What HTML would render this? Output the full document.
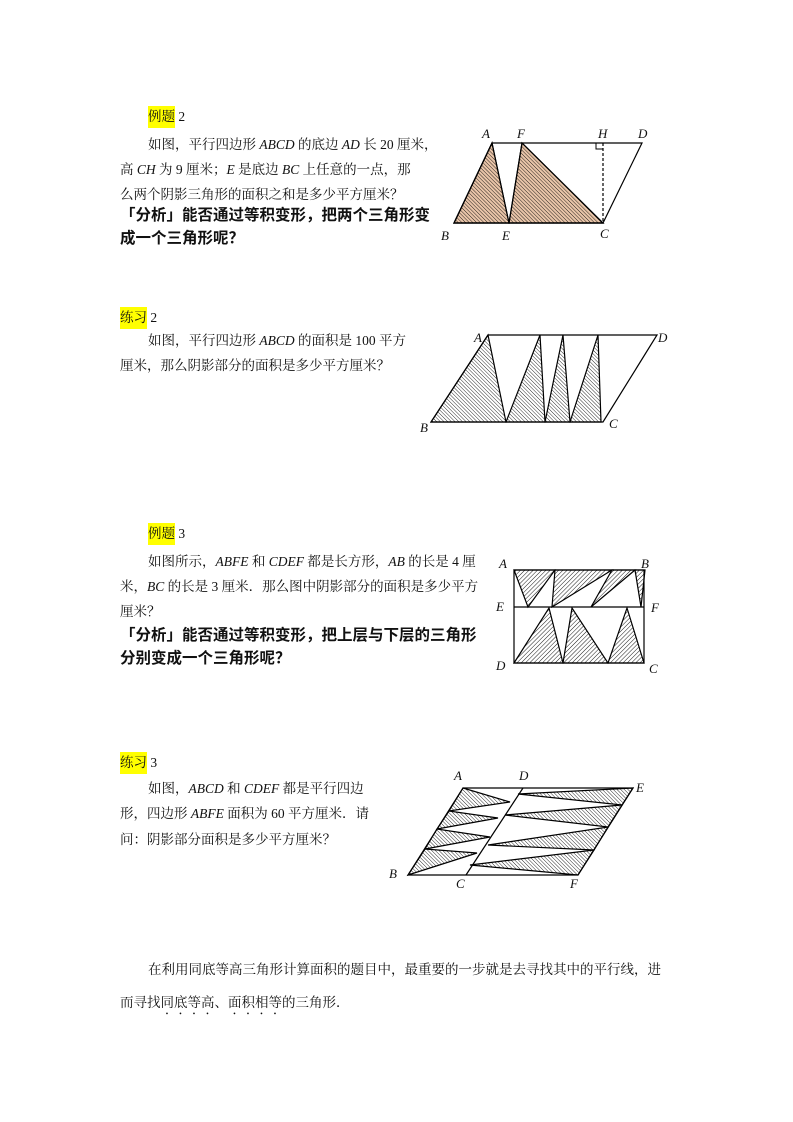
<!DOCTYPE html>
<html><head><meta charset="utf-8"><style>
body{margin:0;background:#fff;width:793px;height:1122px;position:relative;overflow:hidden;font-family:"Liberation Serif","Noto Serif CJK SC",serif;font-size:13.5px;color:#111}
.t{position:absolute;white-space:nowrap;line-height:18px}
.b{font-family:"Liberation Sans","Noto Sans CJK SC",sans-serif;font-weight:bold;font-size:15.5px}
.h{background:#ffff00;padding:3px 0 4px 0}
i{font-style:italic}
.dot{text-emphasis:dot;-webkit-text-emphasis:dot;text-emphasis-position:under;-webkit-text-emphasis-position:under}
svg{position:absolute;left:0;top:0}
svg text{font-family:"Liberation Serif",serif;font-style:italic;font-size:13px}
</style></head><body>
<div class="t" style="left:148px;top:108px"><span class="h">例题</span> 2</div>
<div class="t" style="left:148px;top:136px">如图，平行四边形 <i>ABCD</i> 的底边 <i>AD</i> 长 20 厘米，</div>
<div class="t" style="left:120px;top:161px">高 <i>CH</i> 为 9 厘米；<i>E</i> 是底边 <i>BC</i> 上任意的一点，那</div>
<div class="t" style="left:120px;top:186px">么两个阴影三角形的面积之和是多少平方厘米？</div>
<div class="t b" style="left:120px;top:207px">「分析」能否通过等积变形，把两个三角形变</div>
<div class="t b" style="left:120px;top:230px">成一个三角形呢？</div>

<div class="t" style="left:120px;top:309px"><span class="h">练习</span> 2</div>
<div class="t" style="left:148px;top:332px">如图，平行四边形 <i>ABCD</i> 的面积是 100 平方</div>
<div class="t" style="left:120px;top:357px">厘米，那么阴影部分的面积是多少平方厘米？</div>

<div class="t" style="left:148px;top:525px"><span class="h">例题</span> 3</div>
<div class="t" style="left:148px;top:553px">如图所示，<i>ABFE</i> 和 <i>CDEF</i> 都是长方形，<i>AB</i> 的长是 4 厘</div>
<div class="t" style="left:120px;top:578px">米，<i>BC</i> 的长是 3 厘米．那么图中阴影部分的面积是多少平方</div>
<div class="t" style="left:120px;top:603px">厘米？</div>
<div class="t b" style="left:120px;top:627px">「分析」能否通过等积变形，把上层与下层的三角形</div>
<div class="t b" style="left:120px;top:650px">分别变成一个三角形呢？</div>

<div class="t" style="left:120px;top:754px"><span class="h">练习</span> 3</div>
<div class="t" style="left:148px;top:780px">如图，<i>ABCD</i> 和 <i>CDEF</i> 都是平行四边</div>
<div class="t" style="left:120px;top:805px">形，四边形 <i>ABFE</i> 面积为 60 平方厘米．请</div>
<div class="t" style="left:120px;top:831px">问：阴影部分面积是多少平方厘米？</div>

<div class="t" style="left:148px;top:961px">在利用同底等高三角形计算面积的题目中，最重要的一步就是去寻找其中的平行线，进</div>
<div class="t" style="left:120px;top:994px">而寻找<span class="dot">同底等高</span>、<span class="dot">面积相等</span>的三角形．</div>

<svg width="793" height="1122">
<defs>
<pattern id="hb" width="2.6" height="2.6" patternUnits="userSpaceOnUse" patternTransform="rotate(-45)"><line x1="0" y1="0" x2="0" y2="2.6" stroke="#000" stroke-width="0.8"/></pattern>
<pattern id="hf" width="3" height="3" patternUnits="userSpaceOnUse" patternTransform="rotate(45)"><line x1="0" y1="0" x2="0" y2="3" stroke="#000" stroke-width="0.9"/></pattern>
</defs>
<g stroke="#000" stroke-width="1.2" fill="none">
<polygon points="492,143 454,223 509,223" fill="#e8c4a8"/><polygon points="492,143 454,223 509,223" fill="url(#hb)"/>
<polygon points="522,143 509,223 603,223" fill="#e8c4a8"/><polygon points="522,143 509,223 603,223" fill="url(#hb)"/>
<polygon points="492,143 642,143 603,223 454,223"/>
<line x1="603" y1="143" x2="603" y2="223" stroke-dasharray="3,2"/>
<polyline points="596,143 596,149 603,149" stroke-width="1"/>
<polygon points="488,335 431,422 506,422" fill="url(#hb)"/>
<polygon points="540,335 506,422 545,422" fill="url(#hb)"/>
<polygon points="563,335 545,422 570,422" fill="url(#hb)"/>
<polygon points="598,335 570,422 601,422" fill="url(#hb)"/>
<polygon points="488,335 657,335 603,422 431,422"/>
<polygon points="514,570 555,570 528,607" fill="url(#hf)"/>
<polygon points="555,570 612,570 552,607" fill="url(#hf)"/>
<polygon points="612,570 635,570 591,607" fill="url(#hf)"/>
<polygon points="635,570 645,570 641,607" fill="url(#hf)"/>
<polygon points="514,663 549,608 563,663" fill="url(#hf)"/>
<polygon points="563,663 572,608 608,663" fill="url(#hf)"/>
<polygon points="608,663 627,608 644,663" fill="url(#hf)"/>
<rect x="514" y="570" width="130" height="93"/>
<line x1="514" y1="607" x2="644" y2="607"/>
<polygon points="463,788 449,811 510,802" fill="url(#hb)"/>
<polygon points="449,811 437,829 498,818" fill="url(#hb)"/>
<polygon points="437,829 425,849 490,837" fill="url(#hb)"/>
<polygon points="425,849 408,875 477,853" fill="url(#hb)"/>
<polygon points="633,788 622,805 518,794" fill="url(#hb)"/>
<polygon points="622,805 608,827 505,815" fill="url(#hb)"/>
<polygon points="608,827 594,850 488,845" fill="url(#hb)"/>
<polygon points="594,850 578,875 470,865" fill="url(#hb)"/>
<polygon points="463,788 633,788 578,875 408,875"/>
<line x1="523" y1="788" x2="466" y2="875"/>
</g>
<g fill="#111">
<text x="482" y="138">A</text><text x="517" y="138">F</text><text x="598" y="138">H</text><text x="638" y="138">D</text>
<text x="441" y="240">B</text><text x="502" y="240">E</text><text x="600" y="238">C</text>
<text x="474" y="342">A</text><text x="658" y="342">D</text><text x="420" y="432">B</text><text x="609" y="428">C</text>
<text x="499" y="568">A</text><text x="641" y="568">B</text><text x="496" y="611">E</text><text x="651" y="612">F</text>
<text x="496" y="670">D</text><text x="649" y="673">C</text>
<text x="454" y="780">A</text><text x="519" y="780">D</text><text x="636" y="792">E</text>
<text x="389" y="878">B</text><text x="456" y="888">C</text><text x="570" y="888">F</text>
</g>
</svg>
</body></html>
